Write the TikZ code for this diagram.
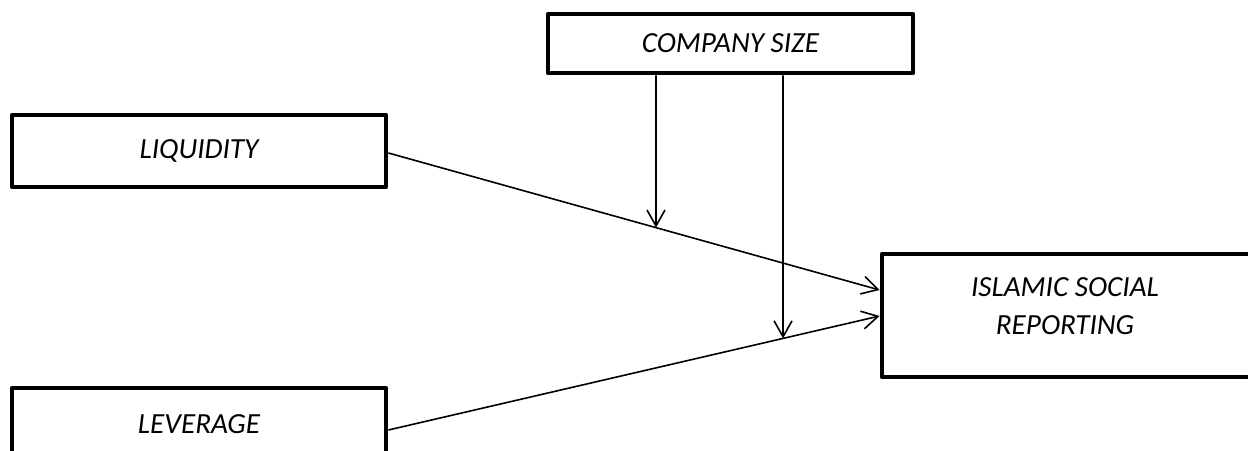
\documentclass[tikz,border=0pt]{standalone}
\usepackage{fontspec}
\setmainfont{Carlito}
\usetikzlibrary{arrows.meta}
\begin{document}
\begin{tikzpicture}[x=0.5pt,y=-0.5pt]
\tikzstyle{every node}=[font=\itshape\fontsize{14.6pt}{19pt}\selectfont]
\tikzstyle{varbox}=[draw,rectangle,line width=2.4pt,line join=round,inner sep=0pt]
\tikzstyle{link}=[line width=0.8pt,-{Straight Barb[length=8pt,width=9pt,line width=0.8pt]}]
\useasboundingbox (0,0) rectangle (1248,450);
% variables
\node[varbox,minimum width=182.5pt,minimum height=29.5pt] (size) at (730.5,43.5) {COMPANY SIZE};
\node[varbox,minimum width=187pt,minimum height=36pt] (liq) at (199,151) {LIQUIDITY};
\node[varbox,minimum width=184pt,minimum height=61.5pt] (isr) at (1066,315.5) {};
\node[align=center] (isrtext) at (1065,306) {ISLAMIC SOCIAL\\REPORTING};
\node[varbox,minimum width=187pt,minimum height=36pt] (lev) at (199,424) {LEVERAGE};
% end points
\coordinate (liqa) at (liq.east |- 0,153);
\coordinate (liqb) at (isr.west |- 0,290);
\coordinate (leva) at (lev.east |- 0,430);
\coordinate (levb) at (isr.west |- 0,316);
\coordinate (sizea) at (size.south -| 656,0);
\coordinate (sizeb) at (size.south -| 783,0);
\coordinate (liqm) at (intersection of liqa--liqb and sizea--{656,400});
\coordinate (levm) at (intersection of leva--levb and sizeb--{783,400});
% arrows
\draw[link] (liqa) -- (liqb);
\draw[link] (leva) -- (levb);
\draw[link] (sizea) -- (liqm);
\draw[link] (sizeb) -- (levm);
\end{tikzpicture}
\end{document}
